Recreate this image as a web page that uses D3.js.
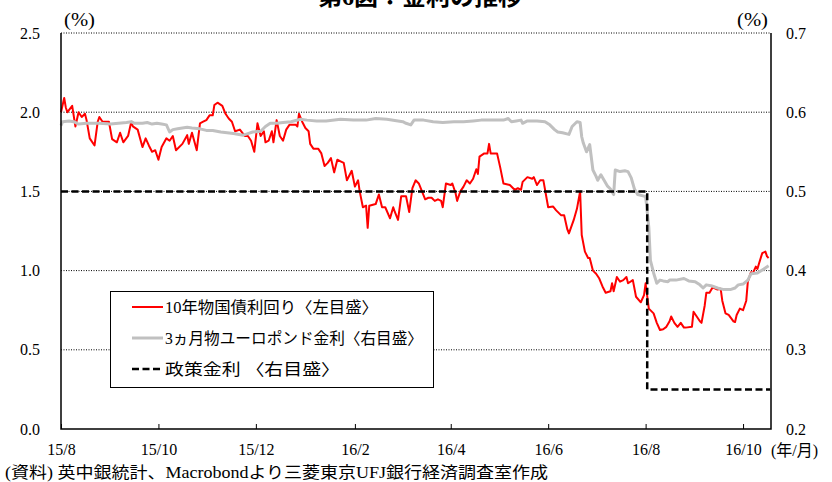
<!DOCTYPE html>
<html><head><meta charset="utf-8">
<script src="https://cdn.jsdelivr.net/npm/d3@7"></script>
<style>
html,body{margin:0;padding:0;background:#fff;}
svg{display:block;}
text{font-family:"Liberation Serif","Noto Sans CJK JP",serif;fill:#000;}
</style></head>
<body><svg id="c" width="832" height="482"></svg>
<script>
const titleText = "第6図：金利の推移";
const sourceText = "(資料) 英中銀統計、Macrobondより三菱東京UFJ銀行経済調査室作成";
const seriesNames = ["10年物国債利回り〈左目盛〉", "3ヵ月物ユーロポンド金利〈右目盛〉", "政策金利 〈右目盛〉"];
const leftTicks = [0.0, 0.5, 1.0, 1.5, 2.0, 2.5];
const rightTicks = [0.2, 0.3, 0.4, 0.5, 0.6, 0.7];
const monthTicks = ["2015-08-01","2015-10-01","2015-12-01","2016-02-01","2016-04-01","2016-06-01","2016-08-01","2016-10-01"];
const xStart = "2015-08-01", xEnd = "2016-10-18";

// 10-year gilt yield (left axis, %)
const tenYearYield = [
["2015-08-01",2.00],["2015-08-03",2.09],["2015-08-04",2.03],["2015-08-05",2.00],["2015-08-08",2.04],["2015-08-10",1.91],
["2015-08-12",2.00],["2015-08-14",1.97],["2015-08-16",1.99],["2015-08-17",1.95],["2015-08-19",1.835],["2015-08-22",1.79],
["2015-08-24",1.94],["2015-08-25",1.97],["2015-08-27",1.94],["2015-08-31",1.94],["2015-09-02",1.83],["2015-09-05",1.81],
["2015-09-07",1.87],["2015-09-09",1.81],["2015-09-12",1.85],["2015-09-14",1.94],["2015-09-15",1.91],["2015-09-18",1.89],
["2015-09-21",1.78],["2015-09-23",1.835],["2015-09-25",1.79],["2015-09-27",1.75],["2015-09-29",1.76],["2015-10-01",1.70],
["2015-10-03",1.78],["2015-10-06",1.835],["2015-10-08",1.82],["2015-10-10",1.85],["2015-10-12",1.76],["2015-10-16",1.80],
["2015-10-19",1.855],["2015-10-20",1.80],["2015-10-22",1.87],["2015-10-25",1.76],["2015-10-27",1.93],["2015-10-29",1.94],
["2015-10-31",1.95],["2015-11-02",1.98],["2015-11-04",1.98],["2015-11-05",2.045],["2015-11-07",2.06],["2015-11-10",2.04],
["2015-11-12",1.99],["2015-11-14",1.96],["2015-11-16",1.94],["2015-11-18",1.88],["2015-11-21",1.89],["2015-11-24",1.85],
["2015-11-26",1.85],["2015-11-28",1.82],["2015-11-30",1.75],["2015-12-02",1.93],["2015-12-04",1.85],["2015-12-06",1.88],
["2015-12-07",1.81],["2015-12-09",1.82],["2015-12-11",1.88],["2015-12-12",1.81],["2015-12-14",1.95],["2015-12-16",1.85],
["2015-12-18",1.82],["2015-12-20",1.89],["2015-12-22",1.92],["2015-12-26",1.92],["2015-12-27",1.91],["2015-12-28",1.99],
["2015-12-30",1.94],["2016-01-01",1.90],["2016-01-03",1.88],["2016-01-04",1.80],["2016-01-06",1.77],["2016-01-09",1.77],
["2016-01-11",1.74],["2016-01-13",1.66],["2016-01-15",1.68],["2016-01-17",1.71],["2016-01-19",1.62],["2016-01-21",1.70],
["2016-01-23",1.69],["2016-01-25",1.68],["2016-01-27",1.57],["2016-01-30",1.63],["2016-02-01",1.53],["2016-02-03",1.57],
["2016-02-04",1.50],["2016-02-06",1.40],["2016-02-08",1.41],["2016-02-09",1.27],["2016-02-10",1.41],["2016-02-14",1.42],
["2016-02-16",1.48],["2016-02-18",1.40],["2016-02-20",1.40],["2016-02-23",1.33],["2016-02-25",1.40],["2016-02-26",1.37],
["2016-02-28",1.32],["2016-03-01",1.47],["2016-03-04",1.47],["2016-03-06",1.37],["2016-03-08",1.52],["2016-03-10",1.57],
["2016-03-12",1.55],["2016-03-14",1.50],["2016-03-16",1.45],["2016-03-18",1.46],["2016-03-20",1.46],["2016-03-22",1.44],
["2016-03-24",1.45],["2016-03-26",1.44],["2016-03-27",1.40],["2016-03-29",1.55],["2016-04-01",1.54],["2016-04-02",1.55],
["2016-04-04",1.49],["2016-04-05",1.44],["2016-04-07",1.50],["2016-04-09",1.53],["2016-04-11",1.57],["2016-04-13",1.55],
["2016-04-15",1.58],["2016-04-17",1.64],["2016-04-18",1.61],["2016-04-19",1.72],["2016-04-22",1.74],["2016-04-24",1.74],
["2016-04-25",1.80],["2016-04-26",1.74],["2016-04-30",1.74],["2016-05-02",1.65],["2016-05-04",1.55],["2016-05-08",1.54],
["2016-05-11",1.51],["2016-05-13",1.52],["2016-05-15",1.51],["2016-05-16",1.56],["2016-05-19",1.59],["2016-05-22",1.58],
["2016-05-23",1.59],["2016-05-25",1.54],["2016-05-27",1.57],["2016-05-29",1.57],["2016-06-01",1.40],["2016-06-04",1.405],
["2016-06-06",1.38],["2016-06-09",1.35],["2016-06-11",1.35],["2016-06-13",1.26],["2016-06-14",1.235],["2016-06-17",1.32],
["2016-06-19",1.39],["2016-06-21",1.50],["2016-06-22",1.225],["2016-06-24",1.12],["2016-06-26",1.08],["2016-06-27",1.08],
["2016-06-29",1.00],["2016-07-01",0.98],["2016-07-03",0.95],["2016-07-05",0.90],["2016-07-07",0.86],["2016-07-10",0.87],
["2016-07-11",0.92],["2016-07-12",0.87],["2016-07-14",0.96],["2016-07-16",0.93],["2016-07-18",0.94],["2016-07-20",0.96],
["2016-07-21",0.92],["2016-07-24",0.94],["2016-07-26",0.835],["2016-07-29",0.80],["2016-07-31",0.845],["2016-08-01",0.92],
["2016-08-03",0.76],["2016-08-06",0.73],["2016-08-08",0.67],["2016-08-10",0.625],["2016-08-12",0.63],["2016-08-14",0.645],
["2016-08-16",0.68],["2016-08-17",0.71],["2016-08-19",0.67],["2016-08-21",0.645],["2016-08-23",0.67],["2016-08-25",0.64],
["2016-08-26",0.64],["2016-08-30",0.645],["2016-08-31",0.74],["2016-09-02",0.71],["2016-09-04",0.68],["2016-09-05",0.67],
["2016-09-07",0.78],["2016-09-08",0.86],["2016-09-10",0.86],["2016-09-12",0.895],["2016-09-15",0.88],["2016-09-17",0.885],
["2016-09-18",0.81],["2016-09-20",0.73],["2016-09-22",0.72],["2016-09-25",0.68],["2016-09-26",0.675],["2016-09-27",0.72],
["2016-09-29",0.76],["2016-10-01",0.75],["2016-10-03",0.81],["2016-10-04",0.93],["2016-10-06",0.99],["2016-10-07",0.98],
["2016-10-09",1.025],["2016-10-10",1.01],["2016-10-11",1.045],["2016-10-13",1.11],["2016-10-15",1.12],["2016-10-16",1.09],
["2016-10-17",1.08]
];

// 3-month euro-sterling rate (right axis, %)
const euroPound3M = [
["2015-08-01",0.583],["2015-08-02",0.588],["2015-08-06",0.589],["2015-08-09",0.588],["2015-08-12",0.585],["2015-08-17",0.586],
["2015-08-25",0.586],["2015-09-01",0.585],["2015-09-06",0.586],["2015-09-11",0.587],["2015-09-14",0.588],["2015-09-16",0.586],
["2015-09-21",0.586],["2015-09-24",0.587],["2015-09-27",0.585],["2015-09-30",0.586],["2015-10-03",0.585],["2015-10-06",0.584],
["2015-10-08",0.575],["2015-10-10",0.578],["2015-10-13",0.579],["2015-10-19",0.581],["2015-10-22",0.580],["2015-10-27",0.579],
["2015-10-31",0.577],["2015-11-04",0.577],["2015-11-09",0.575],["2015-11-13",0.574],["2015-11-17",0.573],["2015-11-23",0.571],
["2015-11-26",0.573],["2015-11-29",0.575],["2015-12-04",0.576],["2015-12-07",0.582],["2015-12-10",0.586],["2015-12-14",0.586],
["2015-12-18",0.587],["2015-12-23",0.588],["2015-12-29",0.591],["2016-01-02",0.590],["2016-01-08",0.589],["2016-01-14",0.589],
["2016-01-23",0.591],["2016-01-31",0.590],["2016-02-08",0.590],["2016-02-14",0.592],["2016-02-21",0.591],["2016-02-28",0.589],
["2016-03-02",0.588],["2016-03-04",0.586],["2016-03-07",0.584],["2016-03-09",0.590],["2016-03-15",0.590],["2016-03-21",0.588],
["2016-03-27",0.587],["2016-04-03",0.588],["2016-04-09",0.588],["2016-04-15",0.589],["2016-04-20",0.590],["2016-04-27",0.590],
["2016-05-04",0.590],["2016-05-07",0.592],["2016-05-09",0.588],["2016-05-12",0.589],["2016-05-15",0.590],["2016-05-16",0.586],
["2016-05-19",0.589],["2016-05-25",0.589],["2016-05-30",0.588],["2016-06-02",0.584],["2016-06-05",0.578],["2016-06-07",0.575],
["2016-06-10",0.574],["2016-06-14",0.572],["2016-06-16",0.582],["2016-06-19",0.588],["2016-06-21",0.587],["2016-06-22",0.569],
["2016-06-23",0.561],["2016-06-25",0.550],["2016-06-27",0.559],["2016-06-29",0.527],["2016-07-01",0.519],["2016-07-02",0.514],
["2016-07-04",0.521],["2016-07-06",0.514],["2016-07-08",0.507],["2016-07-10",0.503],["2016-07-12",0.496],["2016-07-13",0.527],
["2016-07-16",0.525],["2016-07-19",0.526],["2016-07-21",0.525],["2016-07-23",0.517],["2016-07-25",0.503],["2016-07-27",0.496],
["2016-07-31",0.494],["2016-08-01",0.494],["2016-08-03",0.455],["2016-08-04",0.413],["2016-08-06",0.397],["2016-08-08",0.384],
["2016-08-10",0.388],["2016-08-12",0.387],["2016-08-15",0.386],["2016-08-16",0.388],["2016-08-20",0.388],["2016-08-25",0.390],
["2016-08-28",0.387],["2016-09-01",0.386],["2016-09-04",0.382],["2016-09-06",0.378],["2016-09-08",0.382],["2016-09-11",0.381],
["2016-09-15",0.378],["2016-09-19",0.376],["2016-09-23",0.376],["2016-09-26",0.378],["2016-09-28",0.382],["2016-10-01",0.383],
["2016-10-04",0.388],["2016-10-06",0.396],["2016-10-10",0.397],["2016-10-14",0.402],["2016-10-17",0.406]
];

// Bank Rate (right axis, %)
const policyRate = [["2015-08-01",0.50],["2016-08-02",0.25],["2016-10-18",0.25]];

const parse = d3.timeParse("%Y-%m-%d");
const svg = d3.select("#c");
const L = 61, R = 771, T = 33, B = 429;

const x = d3.scaleTime().domain([parse(xStart), d3.timeHour.offset(parse(xEnd), 12)]).range([L, R]);
const yL = d3.scaleLinear().domain([0, 2.5]).range([B, T]);
const yR = d3.scaleLinear().domain([0.2, 0.7]).range([B, T]);

// Title (partly cut at top, as in the original)
svg.append("text").attr("x", 420).attr("y", 5).attr("text-anchor", "middle")
  .style("font-size", "24px").style("font-weight", "bold")
  .attr("textLength", 204).attr("lengthAdjust", "spacingAndGlyphs").text(titleText);

// gridlines
svg.append("g").selectAll("line").data(leftTicks.filter(v => v > 0)).join("line")
  .attr("x1", L).attr("x2", R).attr("y1", d => yL(d)).attr("y2", d => yL(d))
  .attr("stroke", "#000").attr("stroke-width", 1).attr("stroke-dasharray", "1,1.5");

// lines
const lineL = d3.line().x(d => x(parse(d[0]))).y(d => yL(d[1]));
const lineR = d3.line().x(d => x(parse(d[0]))).y(d => yR(d[1]));
svg.append("path").datum(tenYearYield).attr("d", lineL).attr("fill", "none")
  .attr("stroke", "#ff0000").attr("stroke-width", 2).attr("stroke-linejoin", "round");
svg.append("path").datum(euroPound3M).attr("d", lineR).attr("fill", "none")
  .attr("stroke", "#c0c0c0").attr("stroke-width", 3).attr("stroke-linejoin", "round");
svg.append("path").datum(policyRate).attr("d", lineR.curve(d3.curveStepAfter)).attr("fill", "none")
  .attr("stroke", "#000").attr("stroke-width", 2.5).attr("stroke-dasharray", "7,3.5");

// frame
svg.append("path").attr("d", `M${L},${T}V${B}H${R}V${T}`).attr("fill", "none")
  .attr("stroke", "#000").attr("stroke-width", 1.5);

// axes
const fs = "16px";
const xAxis = svg.append("g").attr("transform", `translate(0,${B})`)
  .call(d3.axisBottom(x).tickValues(monthTicks.map(parse)).tickFormat(d3.timeFormat("%y/%-m")).tickSize(-5).tickPadding(15));
xAxis.select(".domain").remove();
xAxis.selectAll("line").attr("stroke", "#000");
xAxis.selectAll("text").style("font-size", fs).attr("font-family", null);

const yAxisL = svg.append("g").attr("transform", `translate(${L},0)`)
  .call(d3.axisLeft(yL).tickValues(leftTicks).tickFormat(d3.format(".1f")).tickSize(0).tickPadding(21));
yAxisL.select(".domain").remove();
yAxisL.selectAll("text").style("font-size", fs).attr("font-family", null);

const yAxisR = svg.append("g").attr("transform", `translate(${R},0)`)
  .call(d3.axisRight(yR).tickValues(rightTicks).tickFormat(d3.format(".1f")).tickSize(0).tickPadding(15));
yAxisR.select(".domain").remove();
yAxisR.selectAll("text").style("font-size", fs).attr("font-family", null);

svg.selectAll(".tick text").attr("fill", "#000");

// unit labels
svg.append("text").attr("x", 64).attr("y", 26).style("font-size", "18px")
  .attr("textLength", 31).attr("lengthAdjust", "spacingAndGlyphs").text("(%)");
svg.append("text").attr("x", 737).attr("y", 26).style("font-size", "18px")
  .attr("textLength", 31).attr("lengthAdjust", "spacingAndGlyphs").text("(%)");
svg.append("text").attr("x", 771).attr("y", 456).style("font-size", fs).text("(年/月)");

// legend
const lg = svg.append("g");
lg.append("rect").attr("x", 110.5).attr("y", 291.5).attr("width", 323).attr("height", 96)
  .attr("fill", "#fff").attr("stroke", "#000").attr("stroke-width", 1);
const legendStyles = [
  {c: "#ff0000", w: 2, dash: null, len: 213},
  {c: "#c0c0c0", w: 3, dash: null, len: 258},
  {c: "#000", w: 2.5, dash: "7,3.5", len: 175}
];
const legendY = [307, 338, 369];
seriesNames.forEach((name, i) => {
  const s = legendStyles[i];
  lg.append("line").attr("x1", 132).attr("x2", 163).attr("y1", legendY[i]).attr("y2", legendY[i])
    .attr("stroke", s.c).attr("stroke-width", s.w).attr("stroke-dasharray", s.dash);
  lg.append("text").attr("x", 165).attr("y", legendY[i] + 6).style("font-size", "16px")
    .attr("textLength", s.len).attr("lengthAdjust", "spacingAndGlyphs").text(name);
});

// source
svg.append("text").attr("x", 5).attr("y", 478).style("font-size", "16px")
  .attr("textLength", 543).attr("lengthAdjust", "spacingAndGlyphs").text(sourceText);
</script></body></html>
